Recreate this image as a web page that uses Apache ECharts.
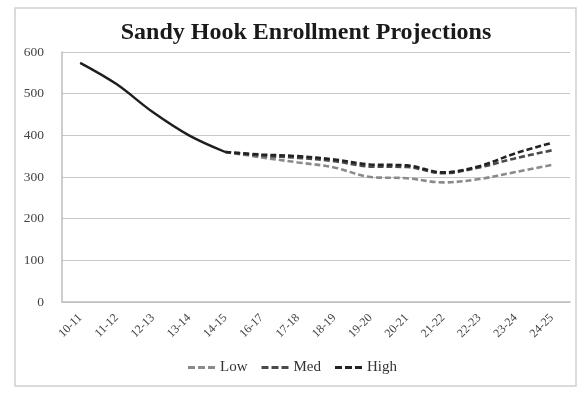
<!DOCTYPE html>
<html>
<head>
<meta charset="utf-8">
<script src="https://cdn.jsdelivr.net/npm/echarts@6/dist/echarts.min.js"></script>
<style>
  html, body { margin: 0; padding: 0; background: #fff; }
  #chart { width: 585px; height: 393px; }
</style>
</head>
<body>
<div id="chart"></div>
<script>
// School years on the category axis
const years = ['10-11', '11-12', '12-13', '13-14', '14-15', '16-17', '17-18',
               '18-19', '19-20', '20-21', '21-22', '22-23', '23-24', '24-25'];

// Actual enrollment (solid line)
const actual = [574, 523, 456, 400, 360, null, null, null, null, null, null, null, null, null];

// Projection scenarios (dashed lines), joined to the last actual year
const low  = [null, null, null, null, 360, 347, 335, 323, 300, 297, 287, 295, 312, 329];
const med  = [null, null, null, null, 360, 351, 346, 338, 325, 324, 309, 323, 345, 364];
const high = [null, null, null, null, 360, 354, 350, 342, 330, 328, 311, 326, 357, 382];

const yTicks = { min: 0, max: 600, interval: 100 };

const serif = '"Liberation Serif", "DejaVu Serif", serif';

// Three short dashes, used as the legend key for each projection
const dashIcon = 'path://M0,0h7v3h-7z M10,0h7v3h-7z M20,0h7v3h-7z';

const chart = echarts.init(document.getElementById('chart'), null, { renderer: 'canvas' });

function projection(name, data, color) {
  return {
    name: name,
    type: 'line',
    data: data,
    smooth: 0.35,
    symbol: 'none',
    connectNulls: false,
    lineStyle: { color: color, width: 2.6, type: [6, 3] },
    itemStyle: { color: color },
    z: 3
  };
}

chart.setOption({
  animation: false,
  backgroundColor: '#fff',
  graphic: [{
    type: 'rect',
    shape: { x: 15, y: 8, width: 561, height: 378 },
    style: { fill: 'none', stroke: '#d0d0d0', lineWidth: 1.5 },
    silent: true
  }],
  title: {
    text: 'Sandy Hook Enrollment Projections',
    left: 301,
    textAlign: 'center',
    top: 16,
    textStyle: { fontFamily: serif, fontWeight: 'bold', fontSize: 24, color: '#1a1a1a' }
  },
  grid: { left: 62, right: 15, top: 52, bottom: 91 },
  legend: {
    data: [
      { name: 'Low', icon: dashIcon },
      { name: 'Med', icon: dashIcon },
      { name: 'High', icon: dashIcon }
    ],
    bottom: 13,
    left: 'center',
    itemWidth: 27,
    itemHeight: 3,
    itemGap: 14,
    textStyle: { fontFamily: serif, fontSize: 15, color: '#333' }
  },
  xAxis: {
    type: 'category',
    data: years,
    boundaryGap: true,
    axisLine: { lineStyle: { color: '#bdbdbd', width: 1.5 } },
    axisTick: { show: false },
    axisLabel: { rotate: 45, fontFamily: serif, fontSize: 12, color: '#444', margin: 14 }
  },
  yAxis: {
    type: 'value',
    min: yTicks.min,
    max: yTicks.max,
    interval: yTicks.interval,
    axisLine: { show: true, lineStyle: { color: '#bdbdbd', width: 1.5 } },
    axisTick: { show: false },
    axisLabel: { fontFamily: serif, fontSize: 13.5, color: '#444', margin: 18 },
    splitLine: { lineStyle: { color: '#c8c8c8', width: 1.2 } }
  },
  series: [
    {
      name: 'Actual',
      type: 'line',
      data: actual,
      smooth: 0.35,
      symbol: 'none',
      lineStyle: { color: '#1e1e1e', width: 2.4 },
      itemStyle: { color: '#1e1e1e' },
      z: 4
    },
    projection('Low', low, '#8a8a8a'),
    projection('Med', med, '#4a4a4a'),
    projection('High', high, '#222222')
  ]
});
</script>
</body>
</html>
